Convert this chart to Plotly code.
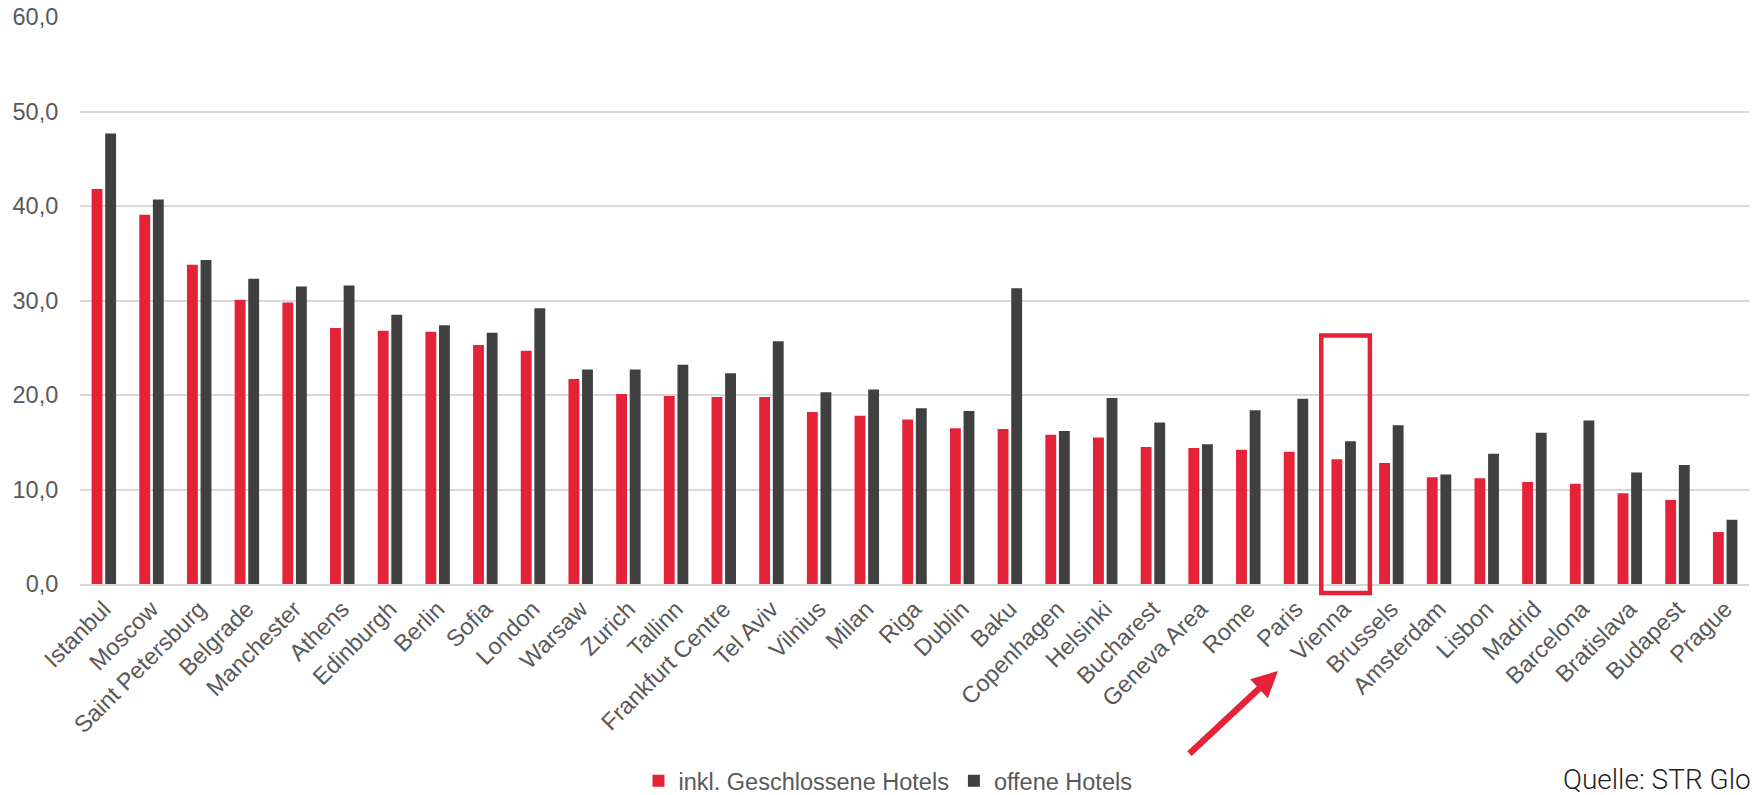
import plotly.graph_objects as go

cities = ["Istanbul", "Moscow", "Saint Petersburg", "Belgrade", "Manchester", "Athens",
          "Edinburgh", "Berlin", "Sofia", "London", "Warsaw", "Zurich", "Tallinn",
          "Frankfurt Centre", "Tel Aviv", "Vilnius", "Milan", "Riga", "Dublin", "Baku",
          "Copenhagen", "Helsinki", "Bucharest", "Geneva Area", "Rome", "Paris", "Vienna",
          "Brussels", "Amsterdam", "Lisbon", "Madrid", "Barcelona", "Bratislava",
          "Budapest", "Prague"]

inkl_geschlossen = [41.8, 39.1, 33.8, 30.1, 29.8, 27.1, 26.8, 26.7, 25.3, 24.7, 21.7,
                    20.1, 19.9, 19.8, 19.8, 18.2, 17.8, 17.4, 16.5, 16.4, 15.8, 15.5,
                    14.5, 14.4, 14.2, 14.0, 13.2, 12.8, 11.3, 11.2, 10.8, 10.6, 9.6,
                    8.9, 5.5]

offene = [47.7, 40.7, 34.3, 32.3, 31.5, 31.6, 28.5, 27.4, 26.6, 29.2, 22.7, 22.7, 23.2,
          22.3, 25.7, 20.3, 20.6, 18.6, 18.3, 31.3, 16.2, 19.7, 17.1, 14.8, 18.4, 19.6,
          15.1, 16.8, 11.6, 13.8, 16.0, 17.3, 11.8, 12.6, 6.8]

series_names = ["inkl. Geschlossene Hotels", "offene Hotels"]
y_ticks = [0, 10, 20, 30, 40, 50, 60]
source_text = "Quelle: STR Glo"
highlight_city = "Vienna"

RED = "#E42238"
DARK = "#404040"
TXT = "#595959"
FONT = "Liberation Sans, Arial, sans-serif"
FS = 23.5

W, H = 1756, 795
ML, MR, MT, MB = 80, 7, 17, 211
PW = W - ML - MR
PH = H - MT - MB

fig = go.Figure()
fig.add_trace(go.Bar(x=cities, y=inkl_geschlossen, name=series_names[0],
                     marker=dict(color=RED, line=dict(width=0))))
fig.add_trace(go.Bar(x=cities, y=offene, name=series_names[1],
                     marker=dict(color=DARK, line=dict(width=0))))

# highlight box around Vienna
hi = cities.index(highlight_city)
box_top = 26.3
box_bottom = -0.95
fig.add_shape(type="rect", xref="x", yref="paper",
              x0=hi - 0.47, x1=hi + 0.55,
              y0=box_bottom / 60, y1=box_top / 60,
              line=dict(color=RED, width=4.5), fillcolor="rgba(0,0,0,0)", layer="above")

# red arrow pointing at Vienna label
head_px = (1278, 671)
tail_px = (1188, 755)
fig.add_annotation(xref="paper", yref="paper",
                   x=(head_px[0] - ML) / PW, y=(MT + PH - head_px[1]) / PH,
                   ax=tail_px[0] - head_px[0], ay=tail_px[1] - head_px[1],
                   text="", showarrow=True, arrowhead=2, arrowsize=0.8,
                   arrowwidth=6.5, arrowcolor=RED, standoff=0, startstandoff=0)

# source text (as visible in the original, ending at the right edge)
fig.add_annotation(xref="paper", yref="paper",
                   x=(W - 4 - ML) / PW, y=(MT + PH - 779) / PH,
                   xanchor="right", yanchor="middle", text=source_text, showarrow=False,
                   borderpad=0,
                   font=dict(family="Roboto, sans-serif", size=28, color="#222222", weight=300))

fig.update_layout(
    width=W, height=H,
    margin=dict(l=ML, r=MR, t=MT, b=MB, pad=0, autoexpand=False),
    paper_bgcolor="white", plot_bgcolor="white",
    barmode="group", bargap=0.43, bargroupgap=0.2,
    separators=",.",
    font=dict(family=FONT, size=FS, color=TXT),
    showlegend=True,
    legend=dict(orientation="h", x=(888 - ML) / PW, xanchor="center",
                y=(MT + PH - 781) / PH, yanchor="middle",
                font=dict(family=FONT, size=FS, color=TXT),
                itemwidth=30, traceorder="normal", bgcolor="rgba(0,0,0,0)"),
    xaxis=dict(type="category", tickangle=-45, showgrid=False, zeroline=False,
               showline=True, linecolor="#D9D9D9", linewidth=2,
               ticks="", tickfont=dict(family=FONT, size=FS, color=TXT)),
    yaxis=dict(range=[0, 60.02], tickvals=y_ticks, tickformat=".1f",
               showgrid=True, gridcolor="#D9D9D9", gridwidth=1.5,
               zeroline=False, showline=False, ticks="outside", ticklen=16,
               tickcolor="rgba(0,0,0,0)",
               tickfont=dict(family=FONT, size=FS, color=TXT)),
)

fig.write_html("out.html", config={"displayModeBar": False},
               post_script="document.body.style.margin='0';")
